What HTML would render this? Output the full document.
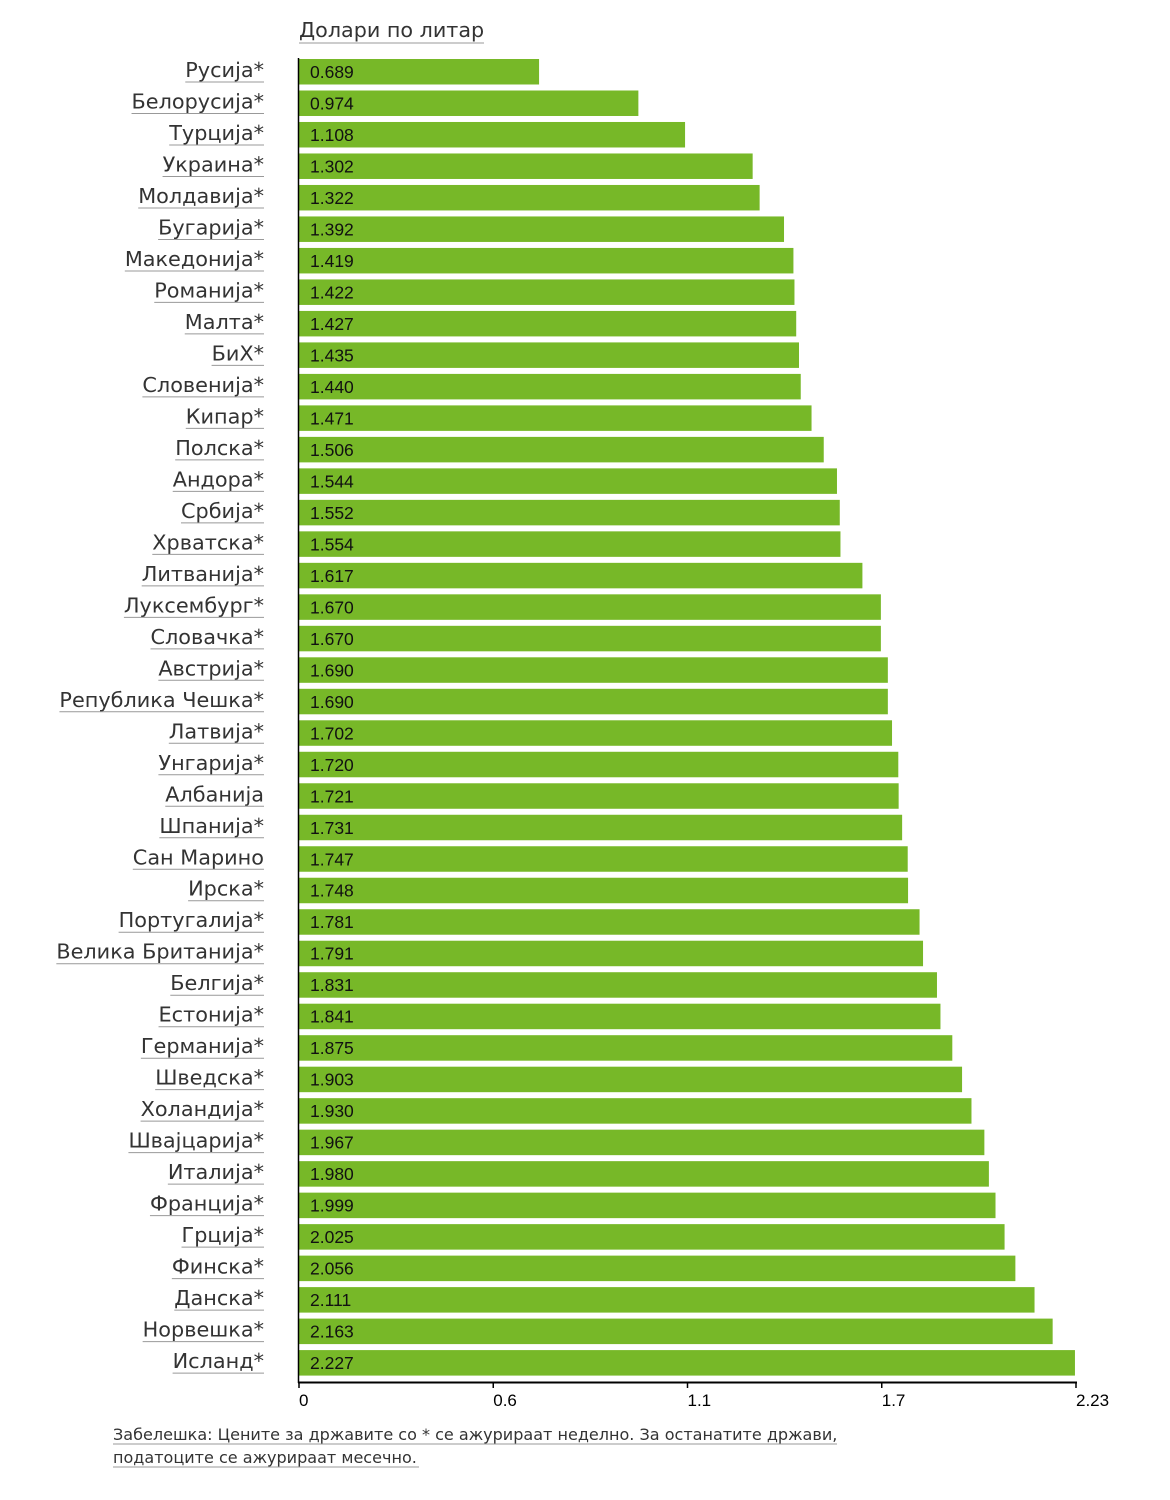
<!DOCTYPE html>
<html><head><meta charset="utf-8"><style>
body{margin:0;background:#fff;width:1170px;height:1500px;overflow:hidden}
svg{display:block}
.cl{font-family:"DejaVu Sans","Liberation Sans",sans-serif;font-size:20.8px;fill:#333}
.vl{font-family:"Liberation Sans",sans-serif;font-size:17.5px;fill:#111}
.tk{font-family:"Liberation Sans",sans-serif;font-size:17px;fill:#000}
</style></head><body>
<svg id="chart" width="1170" height="1500">
<text x="299" y="37" class="cl" style="font-size:20.7px">Долари по литар</text>
<line x1="299" y1="43" x2="484" y2="43" stroke="#999" stroke-width="1"/>
<g id="bars"></g>
<line x1="298.5" y1="58" x2="298.5" y2="1383" stroke="#000" stroke-width="1.5"/>
<line x1="298" y1="1382.5" x2="1077" y2="1382.5" stroke="#000" stroke-width="2"/>
<g id="ticks"></g>
<text x="113" y="1440" class="cl" style="font-size:16.05px">Забелешка: Цените за државите со * се ажурираат неделно. За останатите држави,</text>
<line x1="113" y1="1444" x2="837" y2="1444" stroke="#999"/>
<text x="113" y="1463" class="cl" style="font-size:16.05px">податоците се ажурираат месечно.</text>
<line x1="113" y1="1467" x2="419" y2="1467" stroke="#999"/>
</svg>
<script>
const countries=["Русија*","Белорусија*","Турција*","Украина*","Молдавија*","Бугарија*","Македонија*","Романија*","Малта*","БиХ*","Словенија*","Кипар*","Полска*","Андора*","Србија*","Хрватска*","Литванија*","Луксембург*","Словачка*","Австрија*","Република Чешка*","Латвија*","Унгарија*","Албанија","Шпанија*","Сан Марино","Ирска*","Португалија*","Велика Британија*","Белгија*","Естонија*","Германија*","Шведска*","Холандија*","Швајцарија*","Италија*","Франција*","Грција*","Финска*","Данска*","Норвешка*","Исланд*"];
const values=[0.689,0.974,1.108,1.302,1.322,1.392,1.419,1.422,1.427,1.435,1.440,1.471,1.506,1.544,1.552,1.554,1.617,1.670,1.670,1.690,1.690,1.702,1.720,1.721,1.731,1.747,1.748,1.781,1.791,1.831,1.841,1.875,1.903,1.930,1.967,1.980,1.999,2.025,2.056,2.111,2.163,2.227];
const tickValues=[0,0.5575,1.115,1.6725,2.23];
const tickLabels=["0","0.6","1.1","1.7","2.23"];
const NS="http://www.w3.org/2000/svg";
const x0=299,x1=1076,xmax=2.23,y0=59,pitch=31.49,bh=25.5;
const X=v=>x0+(v/xmax)*(x1-x0);
const Y=i=>y0+i*pitch;
const bars=document.getElementById('bars');
function mk(t,a){const e=document.createElementNS(NS,t);for(const k in a)e.setAttribute(k,a[k]);return e;}
values.forEach((v,i)=>{
 const r=mk('rect',{x:x0,y:Y(i),width:X(v)-x0,height:bh,fill:'#77b828'});
 
 
 bars.appendChild(r);
 const t=mk('text',{x:310,y:Y(i)+19,'class':'vl'});t.textContent=v.toFixed(3);
 
 
 bars.appendChild(t);
 const c=mk('text',{x:264,y:Y(i)+18,'class':'cl','text-anchor':'end'});c.textContent=countries[i];
 
 
 bars.appendChild(c);
 const w=c.getComputedTextLength();
 const u=mk('line',{x1:264-w,x2:264,y1:Y(i)+23,y2:Y(i)+23,stroke:'#999','stroke-width':1});
 
 
 bars.appendChild(u);
});
const tk=document.getElementById('ticks');
tickValues.forEach((v,i)=>{
 const l=mk('line',{x1:X(v),x2:X(v),y1:1382,y2:1388,stroke:'#000','stroke-width':1.5});
 
 
 tk.appendChild(l);
 const t=mk('text',{x:X(v),y:1406,'class':'tk'});t.textContent=tickLabels[i];
 
 
 tk.appendChild(t);
});
</script>
</body></html>
